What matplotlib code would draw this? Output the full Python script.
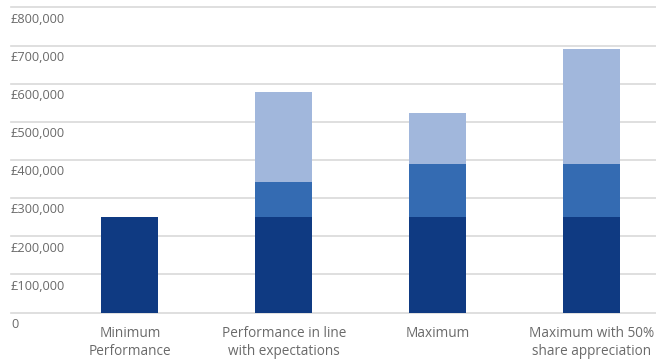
import matplotlib.pyplot as plt

# Remuneration scenarios, stacked by element
categories = ["Minimum\nPerformance", "Performance in line\nwith expectations",
              "Maximum", "Maximum with 50%\nshare appreciation"]
fixed_pay = [250000, 250000, 250000, 250000]
annual_bonus = [0, 93000, 139000, 139000]
long_term = [0, 235000, 134000, 302000]

y_ticks = [0, 100000, 200000, 300000, 400000, 500000, 600000, 700000, 800000]
y_labels = ["0", "£100,000", "£200,000", "£300,000", "£400,000",
            "£500,000", "£600,000", "£700,000", "£800,000"]

DARK = "#0f3a82"
MID = "#346bb2"
LIGHT = "#a1b7dc"
GRID = "#d9d9d9"
TEXT = "#6a6a6a"

plt.rcParams['font.family'] = ['Open Sans', 'DejaVu Sans']

fig = plt.figure(figsize=(6.56, 3.59), dpi=100)
ax = fig.add_axes([11 / 656, 1 - 312.5 / 359, 645 / 656, 305 / 359])

x = range(len(categories))
w = 0.37
ax.bar(x, fixed_pay, width=w, color=DARK, zorder=3)
ax.bar(x, annual_bonus, width=w, bottom=fixed_pay, color=MID, zorder=3)
bottoms = [a + b for a, b in zip(fixed_pay, annual_bonus)]
ax.bar(x, long_term, width=w, bottom=bottoms, color=LIGHT, zorder=3)

ax.set_xlim(-0.773, 3.419)
ax.set_ylim(0, 800000)

# gridlines with labels tucked underneath each line
for val, lab in zip(y_ticks, y_labels):
    ax.axhline(val, color=GRID, linewidth=1.2, zorder=1, clip_on=False)
    ax.text(0.0, val - 14000, lab, transform=ax.get_yaxis_transform(),
            ha="left", va="top", fontsize=9.2, color=TEXT)

for xi, cat in zip(x, categories):
    ax.text(xi, -35000, cat, ha="center", va="top", fontsize=9.8,
            color=TEXT, linespacing=1.3)

ax.set_xticks([])
ax.set_yticks([])
for s in ax.spines.values():
    s.set_visible(False)

fig.savefig("out.png", dpi=100)
